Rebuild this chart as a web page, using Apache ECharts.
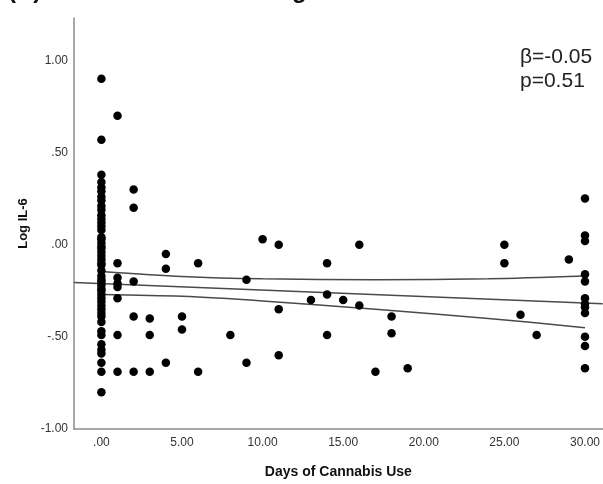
<!DOCTYPE html>
<html>
<head>
<meta charset="utf-8">
<script src="https://cdn.jsdelivr.net/npm/echarts@6/dist/echarts.min.js"></script>
<style>
  html, body { margin: 0; padding: 0; background: #fff; }
  #chart { width: 603px; height: 484px; }
</style>
</head>
<body>
<div id="chart"></div>
<script>
// days of cannabis use for each participant, and log IL-6
var daysUse = [
    0, 0, 0, 0, 0, 0, 0, 0, 0, 0, 0, 0, 0, 0, 0, 0, 0, 0, 0, 0, 0, 0, 0, 0,
    0, 0, 0, 0, 0, 0, 0, 0, 0, 0, 0, 0, 0, 0, 0, 0, 0, 0, 0, 0, 0, 0, 0, 0,
    1, 1, 1, 1, 1, 1, 1, 1,
    2, 2, 2, 2, 2,
    3, 3, 3,
    4, 4, 4,
    5, 5,
    6, 6,
    8,
    9, 9,
    10,
    11, 11, 11,
    13,
    14, 14, 14,
    15,
    16, 16,
    17,
    18, 18,
    19,
    25, 25,
    26,
    27,
    29,
    30, 30, 30, 30, 30, 30, 30, 30, 30, 30, 30, 30
];
var logIL6 = [
    0.90, 0.57, 0.38, 0.34, 0.31, 0.29, 0.26, 0.24, 0.21, 0.19, 0.16, 0.14,
    0.12, 0.10, 0.08, 0.04, 0.03, 0.01, -0.01, -0.02, -0.04, -0.06, -0.08, -0.10,
    -0.11, -0.14, -0.17, -0.19, -0.20, -0.22, -0.24, -0.25, -0.27, -0.29, -0.31, -0.33,
    -0.35, -0.37, -0.39, -0.42, -0.47, -0.49, -0.54, -0.57, -0.59, -0.64, -0.69, -0.80,
    0.70, -0.10, -0.18, -0.21, -0.23, -0.29, -0.49, -0.69,
    0.30, 0.20, -0.20, -0.39, -0.69,
    -0.40, -0.49, -0.69,
    -0.05, -0.13, -0.64,
    -0.39, -0.46,
    -0.10, -0.69,
    -0.49,
    -0.19, -0.64,
    0.03,
    0.00, -0.35, -0.60,
    -0.30,
    -0.10, -0.27, -0.49,
    -0.30,
    0.00, -0.33,
    -0.69,
    -0.39, -0.48,
    -0.67,
    0.00, -0.10,
    -0.38,
    -0.49,
    -0.08,
    0.25, 0.05, 0.02, -0.16, -0.20, -0.29, -0.32, -0.34, -0.37, -0.50, -0.55, -0.67
];

// fit line and its confidence band
var fitX = [-1.7, 31.1];
var fitY = [-0.205, -0.32];
var bandX = [0, 5, 10, 17, 24, 30];
var upperY = [-0.145, -0.172, -0.185, -0.19, -0.185, -0.17];
var lowerY = [-0.27, -0.28, -0.305, -0.35, -0.40, -0.45];

var xTicks = [0, 5, 10, 15, 20, 25, 30];
var yTicks = [-1, -0.5, 0, 0.5, 1];

var titleText = '(C) Cannabis Use and Log';
var betaText = 'β=-0.05';
var pText = 'p=0.51';

function spssFmt(v) {
    var s = Number(v).toFixed(2);
    return s.replace(/^(-?)0\./, '$1.');
}
function pairs(xs, ys) {
    return xs.map(function (x, i) { return [x, ys[i]]; });
}

var myChart = echarts.init(document.getElementById('chart'));
var font = 'Liberation Sans, Arial, sans-serif';

option = {
    backgroundColor: '#fff',
    animation: false,
    grid: {left: 74, top: 18, right: 0, bottom: 51},
    graphic: [
        {type: 'text', left: 8, top: -21, style: {text: titleText, font: 'bold 24px ' + font, fill: '#111'}},
        {type: 'text', left: 520, top: 47, style: {text: betaText, font: '21px ' + font, fill: '#222'}},
        {type: 'text', left: 520, top: 71, style: {text: pText, font: '21px ' + font, fill: '#222'}}
    ],
    xAxis: {
        type: 'value',
        min: -1.7,
        max: 31.1,
        name: 'Days of Cannabis Use',
        nameLocation: 'middle',
        nameGap: 36,
        nameTextStyle: {fontFamily: font, fontWeight: 'bold', fontSize: 14, color: '#111'},
        axisLine: {onZero: false, lineStyle: {color: '#8c8c8c', width: 1.5}},
        axisTick: {show: false},
        splitLine: {show: false},
        axisLabel: {
            customValues: xTicks,
            formatter: spssFmt,
            fontFamily: font,
            fontSize: 12,
            color: '#333',
            margin: 8
        }
    },
    yAxis: {
        type: 'value',
        min: -1,
        max: 1.23,
        name: 'Log IL-6',
        nameLocation: 'middle',
        nameGap: 42,
        nameTextStyle: {fontFamily: font, fontWeight: 'bold', fontSize: 13, color: '#111'},
        axisLine: {show: true, onZero: false, lineStyle: {color: '#8c8c8c', width: 1.5}},
        axisTick: {show: false},
        splitLine: {show: false},
        axisLabel: {
            customValues: yTicks,
            formatter: spssFmt,
            fontFamily: font,
            fontSize: 12,
            color: '#333',
            margin: 6
        }
    },
    series: [
        {
            type: 'scatter',
            symbolSize: 8.5,
            itemStyle: {color: '#000', opacity: 1},
            data: pairs(daysUse, logIL6),
            z: 3
        },
        {
            type: 'line',
            showSymbol: false,
            silent: true,
            lineStyle: {color: '#4a4a4a', width: 1.5},
            data: pairs(fitX, fitY),
            z: 2
        },
        {
            type: 'line',
            showSymbol: false,
            silent: true,
            smooth: 0.3,
            lineStyle: {color: '#4a4a4a', width: 1.5},
            data: pairs(bandX, upperY),
            z: 2
        },
        {
            type: 'line',
            showSymbol: false,
            silent: true,
            smooth: 0.3,
            lineStyle: {color: '#4a4a4a', width: 1.5},
            data: pairs(bandX, lowerY),
            z: 2
        }
    ]
};
myChart.setOption(option);
</script>
</body>
</html>
